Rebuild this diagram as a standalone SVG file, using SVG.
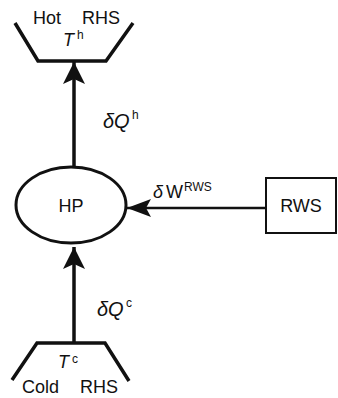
<svg xmlns="http://www.w3.org/2000/svg" width="338" height="398" viewBox="0 0 338 398">
<defs>
<style>
.t{font-family:"Liberation Sans",Arial,sans-serif;font-size:18px;fill:#111}
.i{font-style:italic}
.s{font-size:12px;font-style:normal}
.q{font-size:20px}
.res{fill:none;stroke:#111;stroke-width:3.5;stroke-linejoin:miter}
.edge{stroke:#111;fill:none}
</style>
<marker id="ah" viewBox="0 0 22 22" refX="22" refY="11" markerWidth="22" markerHeight="22" markerUnits="userSpaceOnUse" orient="auto">
<path d="M0,0 L22,11 L0,22 L5,11 Z" fill="#111"/>
</marker>
<marker id="ah2" viewBox="0 0 24 18" refX="24" refY="9" markerWidth="24" markerHeight="18" markerUnits="userSpaceOnUse" orient="auto">
<path d="M0,0 L24,9 L0,18 L5,9 Z" fill="#111"/>
</marker>
</defs>
<rect width="338" height="398" fill="#fff"/>
<g id="hot">
<path class="res" d="M15,23 L38,61 L106,61 L133,23"/>
<text class="t" x="33" y="24">Hot</text>
<text class="t" x="82" y="24">RHS</text>
<text class="t i" x="63" y="46">T</text>
<text class="t s" x="77" y="39">h</text>
</g>
<g id="hp">
<ellipse cx="71" cy="205" rx="55" ry="38" fill="none" stroke="#111" stroke-width="3"/>
<text class="t" x="71" y="212" text-anchor="middle">HP</text>
</g>
<g id="rws">
<rect x="266" y="178" width="70" height="55" fill="none" stroke="#111" stroke-width="2"/>
<text class="t" x="301" y="212" text-anchor="middle">RWS</text>
</g>
<g id="cold">
<path class="res" d="M12,380 L37,343 L105,343 L129,381"/>
<text class="t i" x="58" y="368">T</text>
<text class="t s" x="72" y="363">c</text>
<text class="t" x="22" y="393">Cold</text>
<text class="t" x="80" y="393">RHS</text>
</g>
<g id="connectors">
<line class="edge" x1="74" y1="167" x2="74" y2="62" stroke-width="3.5" marker-end="url(#ah)"/>
<line class="edge" x1="74" y1="343" x2="74" y2="247" stroke-width="3.5" marker-end="url(#ah)"/>
<line class="edge" x1="266" y1="208" x2="127" y2="208" stroke-width="2.5" marker-end="url(#ah2)"/>
<text class="t i q" x="103" y="128">δQ</text>
<text class="t s" x="132" y="119">h</text>
<text class="t i q" x="97" y="316">δQ</text>
<text class="t s" x="126" y="307">c</text>
<text class="t i" x="153" y="198" font-size="17">δ</text>
<text class="t" x="166" y="198" font-size="17">W</text>
<text class="t s" x="184" y="191">RWS</text>
</g>
</svg>
